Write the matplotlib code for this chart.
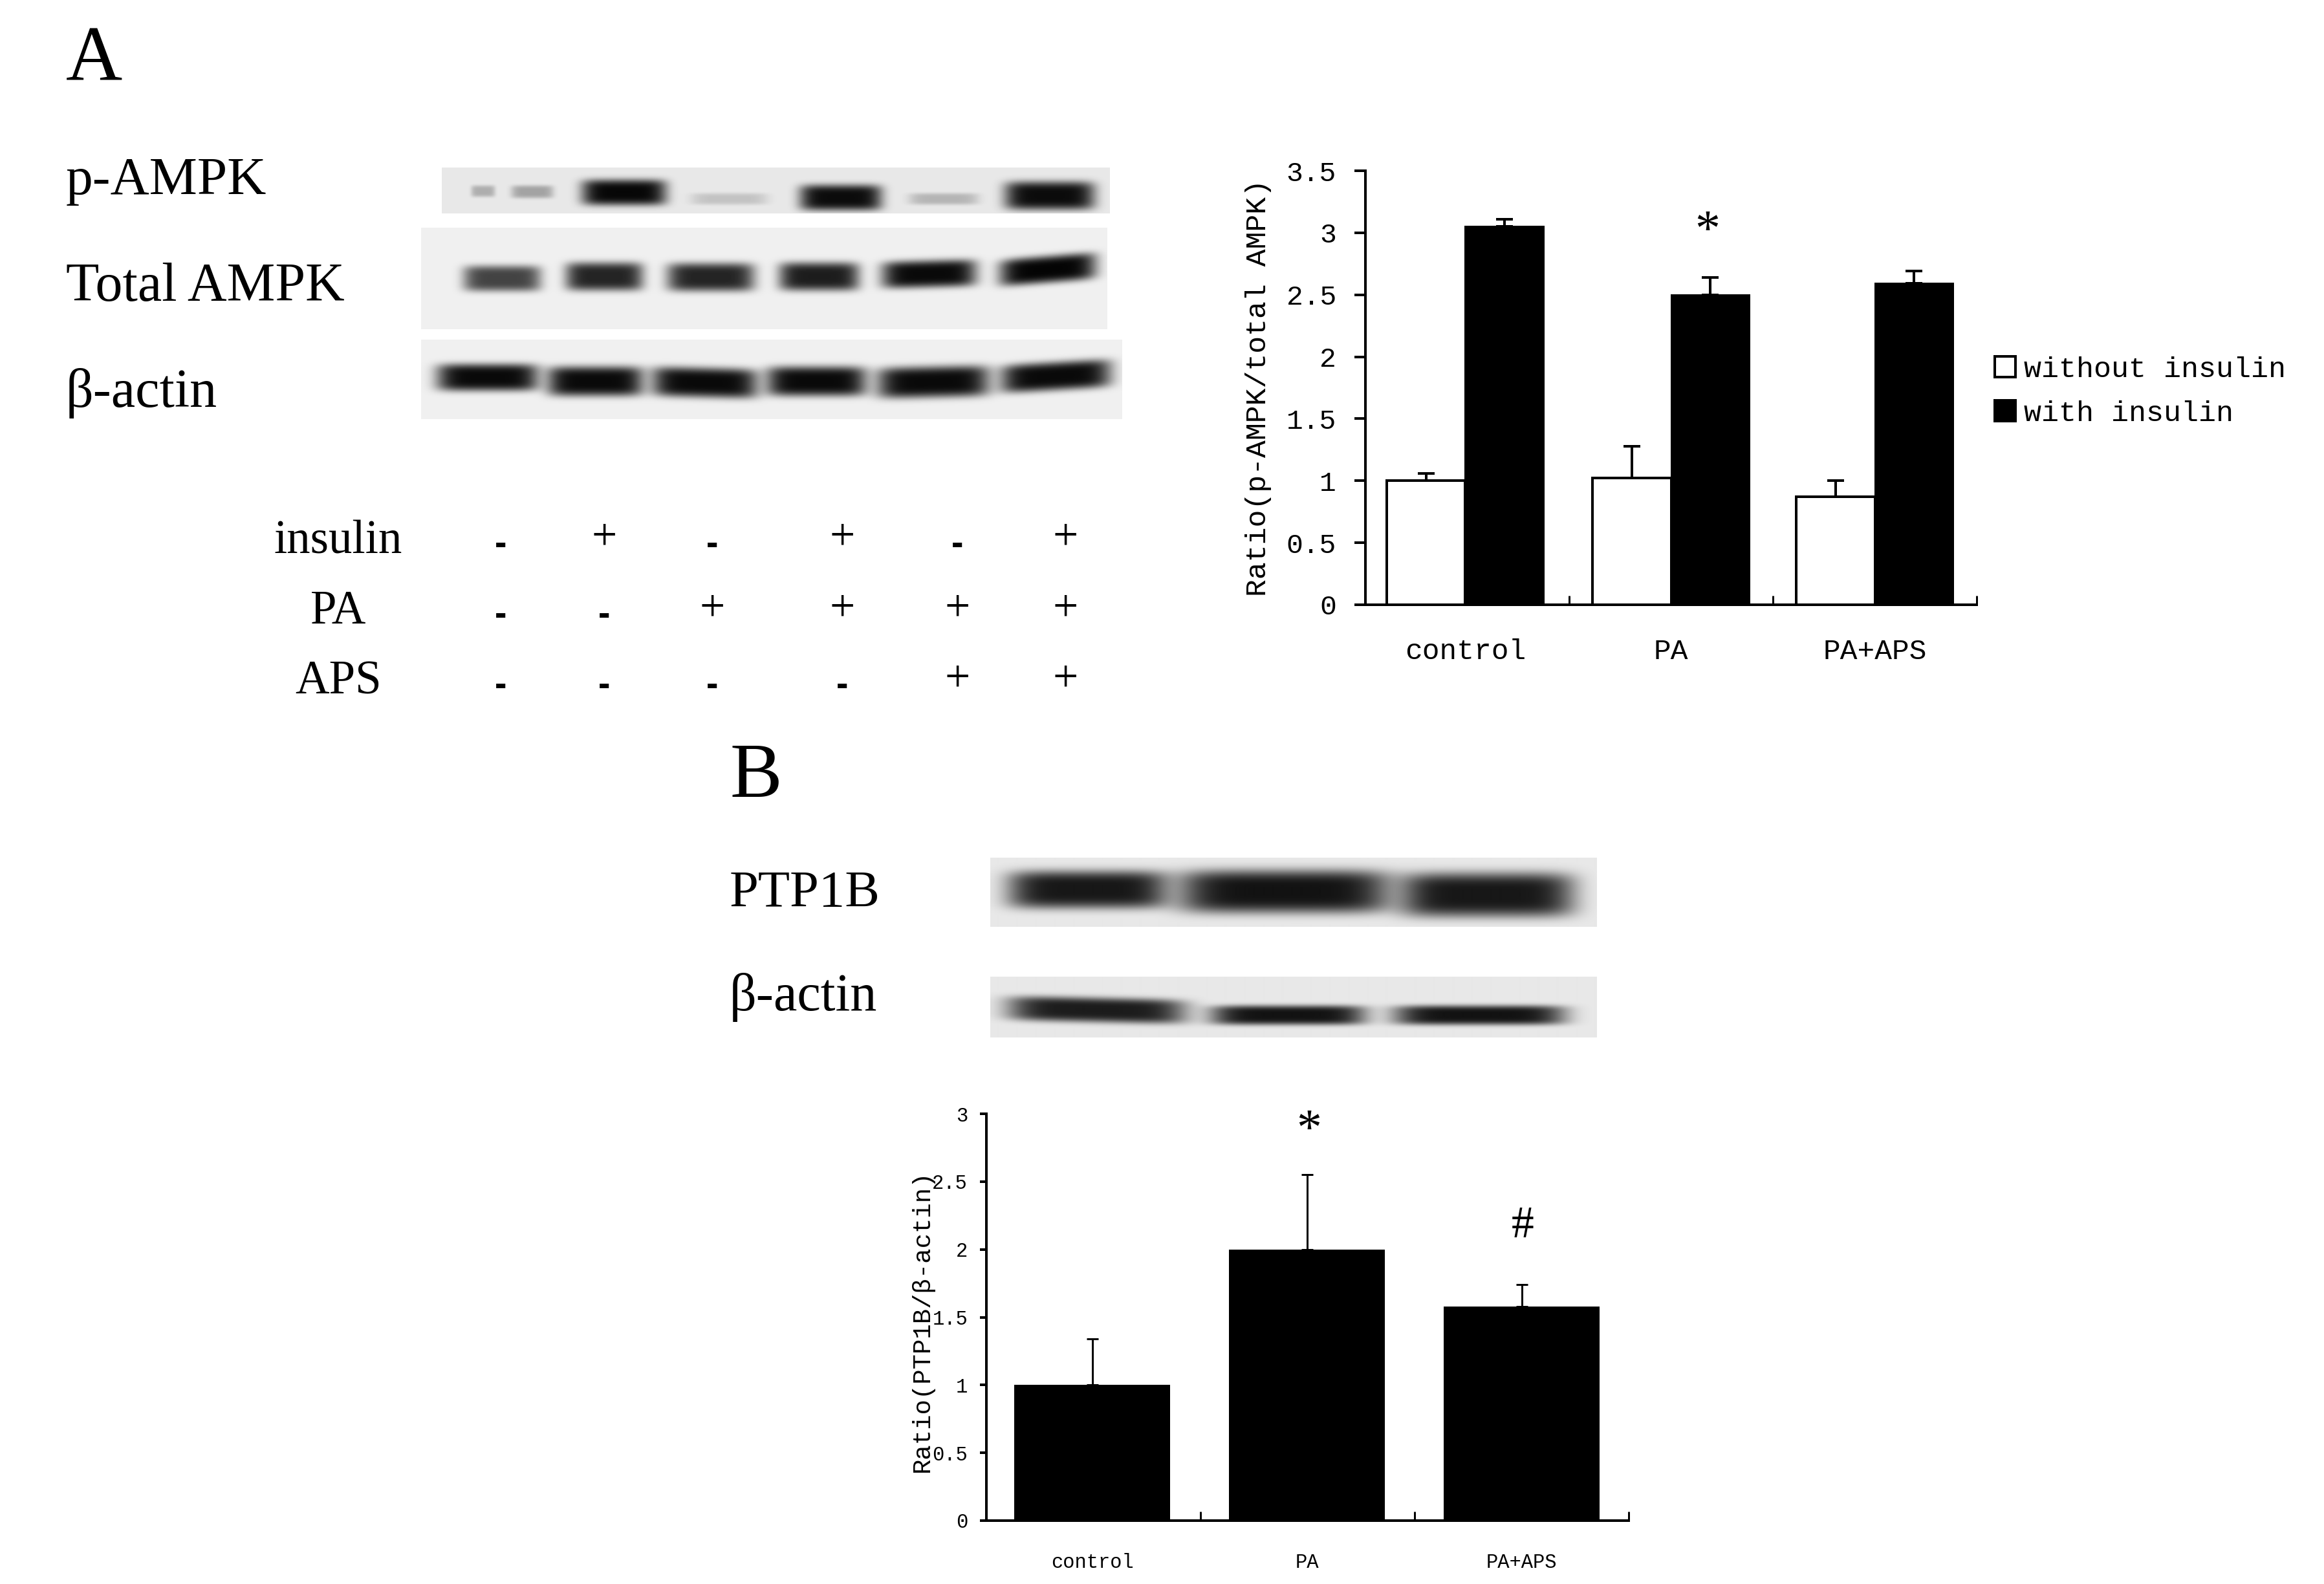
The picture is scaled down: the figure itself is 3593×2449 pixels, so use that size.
import numpy as np
import matplotlib
matplotlib.use("Agg")
import matplotlib.pyplot as plt
from matplotlib.patches import Patch

W, H = 3593, 2449
PX = 72 / 100  # points per pixel at dpi 100
SERIF = "Liberation Serif"
MONO = "Liberation Mono"

# ---------- data ----------
groups_a = ["control", "PA", "PA+APS"]
without_insulin = [1.0, 1.02, 0.87]
without_insulin_err = [0.06, 0.26, 0.13]
with_insulin = [3.05, 2.50, 2.59]
with_insulin_err = [0.06, 0.14, 0.10]
yticks_a = [0, 0.5, 1, 1.5, 2, 2.5, 3, 3.5]
yticklabels_a = ["0", "0.5", "1", "1.5", "2", "2.5", "3", "3.5"]

groups_b = ["control", "PA", "PA+APS"]
ptp1b = [1.0, 2.0, 1.58]
ptp1b_err = [0.34, 0.55, 0.16]
yticks_b = [0, 0.5, 1, 1.5, 2, 2.5, 3]
yticklabels_b = ["0", "0.5", "1", "1.5", "2", "2.5", "3"]

insulin_row = ["-", "+", "-", "+", "-", "+"]
pa_row = ["-", "-", "+", "+", "+", "+"]
aps_row = ["-", "-", "-", "-", "+", "+"]

# band strength per lane (0 = none, 1 = black); the first p-AMPK lane has two faint spots
p_ampk_lanes = [0.25, 0.30, 0.97, 0.16, 0.95, 0.22, 0.95]
total_ampk_lanes = [0.72, 0.85, 0.85, 0.88, 0.96, 0.98]
actin_a_lanes = [0.96, 0.96, 0.96, 0.96, 0.96, 0.96]
ptp1b_lanes = [0.90, 0.92, 0.90]
actin_b_lanes = [0.88, 0.92, 0.92]

fig = plt.figure(figsize=(W / 100, H / 100), dpi=100, facecolor="white")


def put(x, y, s, size, family=SERIF, ha="left", va="baseline", **kw):
    return fig.text(x / W, 1 - y / H, s, fontsize=size, family=family,
                    ha=ha, va=va, color="black", **kw)


def pixel_axes(x0, y_top, x1, y_bottom):
    return fig.add_axes([x0 / W, 1 - y_bottom / H, (x1 - x0) / W, (y_bottom - y_top) / H])


def blot(rect, lanes, geometry, bg):
    """rect = x0, y0, x1, y1; geometry per lane = xl, xr, yc, half-height, tilt"""
    x0, y0, x1, y1 = rect
    ax = pixel_axes(x0, y0, x1, y1)
    yy, xx = np.mgrid[y0:y1, x0:x1]
    img = np.full(yy.shape, 1.0, dtype=float)
    for d, (xl, xr, yc, hh, tilt) in zip(lanes, geometry):
        xc = (xl + xr) / 2
        hw = (xr - xl) / 2
        sx = np.exp(-np.abs((xx - xc) / hw) ** 6)
        centre = yc - tilt * (xx - xc) / hw
        sy = np.exp(-np.abs((yy - centre) / hh) ** 4)
        img *= 1 - d * sx * sy
    ax.imshow(img * bg, cmap="gray", vmin=0, vmax=1, aspect="auto", interpolation="bilinear")
    ax.axis("off")


# ---------- panel labels ----------
put(102, 124, "A", 87)
put(1128, 1232, "B", 87)
put(102, 300, "p-AMPK", 60)
put(102, 465, "Total AMPK", 60.5)
put(102, 629, "β-actin", 60.5)
put(1128, 1402, "PTP1B", 58)
put(1128, 1562, "β-actin", 59)

# ---------- blots ----------
blot((683, 259, 1716, 330), p_ampk_lanes,
     [(728, 765, 295, 9, 0), (790, 855, 296, 10, 0), (899, 1030, 297, 20, 0),
      (1068, 1186, 307, 9, 0), (1236, 1363, 305, 20, 0), (1405, 1512, 307, 9, 0),
      (1553, 1692, 302, 22, 0)], 0.91)
blot((651, 352, 1712, 509), total_ampk_lanes,
     [(716, 836, 430, 20, 0), (874, 994, 427, 22, 0), (1031, 1166, 428, 22, 0),
      (1204, 1328, 427, 22, 0), (1363, 1509, 423, 21, 2), (1545, 1694, 416, 21, 6)], 0.94)
blot((651, 525, 1735, 648), actin_a_lanes,
     [(675, 832, 583, 21, 0), (846, 994, 589, 23, 0), (1008, 1171, 591, 23, -2),
      (1185, 1339, 589, 23, 0), (1356, 1529, 590, 24, 2), (1547, 1717, 581, 22, 5)], 0.94)
blot((1531, 1326, 2468, 1433), ptp1b_lanes,
     [(1558, 1804, 1375, 29, 0), (1822, 2148, 1378, 33, 0), (2165, 2432, 1383, 34, 0)], 0.91)
blot((1531, 1510, 2468, 1604), actin_b_lanes,
     [(1558, 1832, 1561, 19, -3), (1871, 2110, 1569, 15, 0), (2154, 2418, 1569, 15, 0)], 0.91)

# ---------- treatment table ----------
columns = [774, 934, 1101, 1302, 1480, 1647]
for label, row, y in [("insulin", insulin_row, 855), ("PA", pa_row, 964), ("APS", aps_row, 1073)]:
    put(523, y, label, 52.5, ha="center")
    for x, sign in zip(columns, row):
        if sign == "+":
            put(x, y - 5, "+", 50, ha="center")
        else:
            put(x, y + 2, "-", 40, family="Liberation Sans", weight="bold", ha="center")


def style_axes(ax, ylim, yticks, ylabels, n, ticksize, xsize, tick_out, tick_in, pad_y, pad_x, centres, names):
    ax.set_xlim(0, n)
    ax.set_ylim(*ylim)
    for side in ("top", "right"):
        ax.spines[side].set_visible(False)
    for side in ("left", "bottom"):
        ax.spines[side].set_linewidth(4 * PX)
    ax.set_yticks(yticks, ylabels, family=MONO, fontsize=ticksize)
    ax.tick_params(axis="y", direction="out", length=tick_out * PX, width=4 * PX, pad=pad_y * PX)
    ax.set_xticks(range(1, n + 1), [""] * n)
    ax.tick_params(axis="x", which="major", direction="in", length=tick_in * PX, width=3 * PX)
    ax.set_xticks(centres, names, minor=True, family=MONO, fontsize=xsize)
    ax.tick_params(axis="x", which="minor", length=0, pad=pad_x * PX)


# ---------- chart A ----------
ax_a = pixel_axes(2111, 264, 3056, 935)
centres_a = np.array([0.49, 1.50, 2.50])
width_a = 0.385
errkw_a = dict(ecolor="black", elinewidth=4 * PX, capsize=13 * PX, capthick=4 * PX)
ax_a.bar(centres_a - width_a / 2, without_insulin, width_a, color="white", edgecolor="black",
         linewidth=4 * PX, yerr=[[0] * 3, without_insulin_err], error_kw=errkw_a, label="without insulin")
ax_a.bar(centres_a + width_a / 2, with_insulin, width_a, color="black", edgecolor="black",
         linewidth=2 * PX, yerr=[[0] * 3, with_insulin_err], error_kw=errkw_a, label="with insulin")
style_axes(ax_a, (0, 3.5), yticks_a, yticklabels_a, 3, 31, 32, 17, 14, 28, 52, centres_a, groups_a)
put(1945, 600, "Ratio(p-AMPK/total AMPK)", 32.3, family=MONO, ha="center", va="center", rotation=90)
put(2640, 378, "*", 56, ha="center")

handles = [Patch(facecolor="white", edgecolor="black", linewidth=4 * PX, label="without insulin"),
           Patch(facecolor="black", edgecolor="black", linewidth=4 * PX, label="with insulin")]
fig.legend(handles=handles, loc="upper left", bbox_to_anchor=(3084 / W, 1 - 551 / H),
           frameon=False, borderpad=0, borderaxespad=0, handlelength=0.72, handleheight=0.72,
           handletextpad=0.28, labelspacing=0.6,
           prop={"family": MONO, "size": 32.4})

# ---------- chart B ----------
ax_b = pixel_axes(1525, 1722, 2518, 2351)
centres_b = np.array([0.494, 1.497, 2.50])
errkw_b = dict(ecolor="black", elinewidth=3 * PX, capsize=9 * PX, capthick=3 * PX)
ax_b.bar(centres_b, ptp1b, 0.727, color="black", yerr=[[0] * 3, ptp1b_err], error_kw=errkw_b)
style_axes(ax_b, (0, 3), yticks_b, yticklabels_b, 3, 22, 22, 10, 14, 19, 50, centres_b, groups_b)
put(1426, 2042, "Ratio(PTP1B/β-actin)", 28, family=MONO, ha="center", va="center", rotation=90)
put(2024, 1768, "*", 56, ha="center")
put(2354, 1913, "#", 50, ha="center")

fig.savefig("out.png", dpi=100, facecolor="white")
